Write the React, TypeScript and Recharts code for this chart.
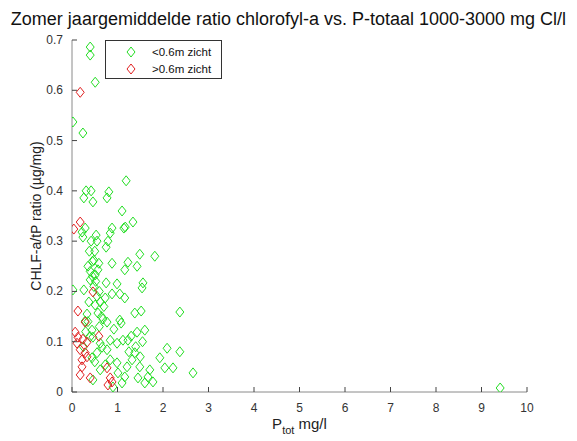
import React from "react";
import { ScatterChart, Scatter, XAxis, YAxis, Legend } from "recharts";

const ptotLow = [0.40,0.40,0.51,0.02,0.24,0.31,0.42,0.26,0.46,0.81,0.77,1.19,1.10,1.34,1.14,0.88,0.84,0.79,0.75,0.29,0.24,0.53,1.82,1.49,1.43,1.23,1.16,0.88,0.59,0.57,0.48,0.51,0.40,0.02,0.26,0.75,0.99,1.16,1.05,0.88,0.73,0.62,0.51,0.37,1.56,1.54,2.37,1.38,1.52,1.05,1.08,0.92,0.77,0.68,0.57,0.33,0.29,1.60,1.43,1.30,1.23,1.12,0.99,0.84,0.66,0.62,0.46,0.44,2.09,1.93,2.04,2.22,2.37,2.66,1.71,1.67,1.78,1.60,1.45,1.49,1.38,1.32,1.21,1.16,1.10,1.01,0.99,0.84,0.73,0.62,0.46,0.90,0.44,0.55,0.77,9.41,0.35,0.40,0.45,0.48,0.55,0.52,0.45,0.38,0.50,0.55,0.42,0.60,0.70,0.30,0.35,0.40,0.25,0.50,0.60,0.65,1.40,1.50,1.25,1.55,0.22,1.17];
const ratioLow = [0.686,0.670,0.616,0.537,0.515,0.400,0.400,0.386,0.378,0.398,0.386,0.420,0.360,0.338,0.326,0.326,0.316,0.300,0.288,0.326,0.308,0.312,0.270,0.274,0.250,0.258,0.243,0.256,0.256,0.243,0.262,0.233,0.223,0.203,0.203,0.217,0.215,0.187,0.195,0.195,0.187,0.179,0.173,0.179,0.217,0.207,0.159,0.157,0.161,0.143,0.137,0.125,0.139,0.145,0.157,0.155,0.141,0.123,0.119,0.111,0.103,0.103,0.097,0.103,0.089,0.097,0.109,0.123,0.087,0.068,0.048,0.048,0.080,0.038,0.044,0.030,0.020,0.018,0.028,0.050,0.078,0.064,0.050,0.030,0.018,0.038,0.058,0.064,0.054,0.044,0.024,0.010,0.068,0.078,0.084,0.008,0.250,0.240,0.230,0.210,0.190,0.220,0.260,0.280,0.280,0.300,0.300,0.200,0.170,0.120,0.140,0.110,0.090,0.060,0.130,0.150,0.090,0.070,0.080,0.100,0.318,0.328];

const ptotHigh = [0.18,0.04,0.18,0.46,0.13,0.29,0.59,0.07,0.13,0.24,0.33,0.11,0.18,0.29,0.33,0.22,0.22,0.18,0.40,0.77,0.84,0.79,0.88];
const ratioHigh = [0.596,0.324,0.338,0.199,0.161,0.139,0.111,0.119,0.109,0.105,0.099,0.097,0.084,0.078,0.070,0.064,0.050,0.034,0.028,0.048,0.028,0.014,0.020];

const xTicks = [0,1,2,3,4,5,6,7,8,9,10];
const yTicks = [0,0.1,0.2,0.3,0.4,0.5,0.6,0.7];

const seriesLow = ptotLow.map((x, i) => ({ x, y: ratioLow[i] }));
const seriesHigh = ptotHigh.map((x, i) => ({ x, y: ratioHigh[i] }));

const GREEN = "#22dd22";
const RED = "#e02020";
const FONT = "'Liberation Sans', Arial, sans-serif";

const diamond = (color: string) => (props: any) => {
  const { cx, cy } = props;
  if (cx == null || cy == null) return null;
  const w = 4, h = 5;
  return (
    <polygon
      points={`${cx},${cy - h} ${cx + w},${cy} ${cx},${cy + h} ${cx - w},${cy}`}
      fill="none"
      stroke={color}
      strokeWidth={1}
    />
  );
};

const XTick = (props: any) => {
  const { x, y, payload } = props;
  const axisY = y - 8;
  return (
    <g>
      <line x1={x} y1={axisY} x2={x} y2={axisY - 5} stroke="#444" strokeWidth={1} />
      <text x={x} y={y + 12} textAnchor="middle" fontSize={12} fill="#333" fontFamily={FONT}>
        {payload.value}
      </text>
    </g>
  );
};

const YTick = (props: any) => {
  const { x, y, payload } = props;
  const axisX = x + 8;
  return (
    <g>
      <line x1={axisX} y1={y} x2={axisX + 5} y2={y} stroke="#444" strokeWidth={1} />
      <text x={x - 1} y={y + 4} textAnchor="end" fontSize={12} fill="#333" fontFamily={FONT}>
        {payload.value}
      </text>
    </g>
  );
};

const XLabel = (props: any) => {
  const { viewBox } = props;
  const cx = viewBox.x + viewBox.width / 2;
  const y = viewBox.y + 37;
  return (
    <text x={cx} y={y} textAnchor="middle" fontSize={15} fill="#222" fontFamily={FONT}>
      P
      <tspan fontSize={11} dy={5}>tot</tspan>
      <tspan dy={-5}> mg/l</tspan>
    </text>
  );
};

const YLabel = (props: any) => {
  const { viewBox } = props;
  const cy = viewBox.y + viewBox.height / 2;
  const x = 41;
  return (
    <text
      x={x}
      y={cy}
      transform={`rotate(-90, ${x}, ${cy})`}
      textAnchor="middle"
      fontSize={14}
      fill="#222"
      fontFamily={FONT}
    >
      CHLF-a/tP ratio (µg/mg)
    </text>
  );
};

const LegendIcon = ({ color }: { color: string }) => (
  <svg width={10} height={12} style={{ display: "block" }}>
    <polygon points="5,1 9,6 5,11 1,6" fill="none" stroke={color} strokeWidth={1} />
  </svg>
);

const LegendContent = () => (
  <div
    style={{
      width: 117,
      height: 39,
      boxSizing: "border-box",
      border: "1px solid #333",
      background: "#fff",
      fontFamily: FONT,
      fontSize: 11.5,
      color: "#111",
      paddingTop: 2,
    }}
  >
    {[
      { c: GREEN, t: "<0.6m zicht" },
      { c: RED, t: ">0.6m zicht" },
    ].map((r) => (
      <div key={r.t} style={{ display: "flex", alignItems: "center", height: 17 }}>
        <div style={{ width: 20 }} />
        <LegendIcon color={r.c} />
        <div style={{ width: 16 }} />
        <span>{r.t}</span>
      </div>
    ))}
  </div>
);

export default function App() {
  return (
    <div style={{ position: "absolute", left: 0, top: 0, width: 577, height: 441, background: "#fff" }}>
      <div
        style={{
          position: "absolute",
          left: 0,
          top: 9,
          width: 577,
          textAlign: "center",
          fontFamily: FONT,
          fontSize: 18,
          color: "#111",
          lineHeight: "20px",
          whiteSpace: "nowrap",
        }}
      >
        Zomer jaargemiddelde ratio chlorofyl-a vs. P-totaal 1000-3000 mg Cl/l
      </div>
      <ScatterChart width={577} height={441} margin={{ top: 40, right: 50, bottom: 19, left: 32 }}>
        <XAxis
          type="number"
          dataKey="x"
          domain={[0, 10]}
          ticks={xTicks}
          height={30}
          stroke="#8a8a8a"
          tickLine={false}
          tickSize={6}
          tickMargin={2}
          tick={<XTick />}
          interval={0}
          allowDataOverflow
          label={<XLabel />}
        />
        <YAxis
          type="number"
          dataKey="y"
          domain={[0, 0.7]}
          ticks={yTicks}
          width={40}
          stroke="#8a8a8a"
          tickLine={false}
          tickSize={6}
          tickMargin={2}
          tick={<YTick />}
          interval={0}
          allowDataOverflow
          label={<YLabel />}
        />
        <Legend
          layout="vertical"
          align="center"
          verticalAlign="middle"
          content={<LegendContent />}
          wrapperStyle={{ position: "absolute", left: 105, top: 40, width: 117, height: 39 }}
        />
        <Scatter name="<0.6m zicht" data={seriesLow} shape={diamond(GREEN)} isAnimationActive={false} />
        <Scatter name=">0.6m zicht" data={seriesHigh} shape={diamond(RED)} isAnimationActive={false} />
      </ScatterChart>
    </div>
  );
}
